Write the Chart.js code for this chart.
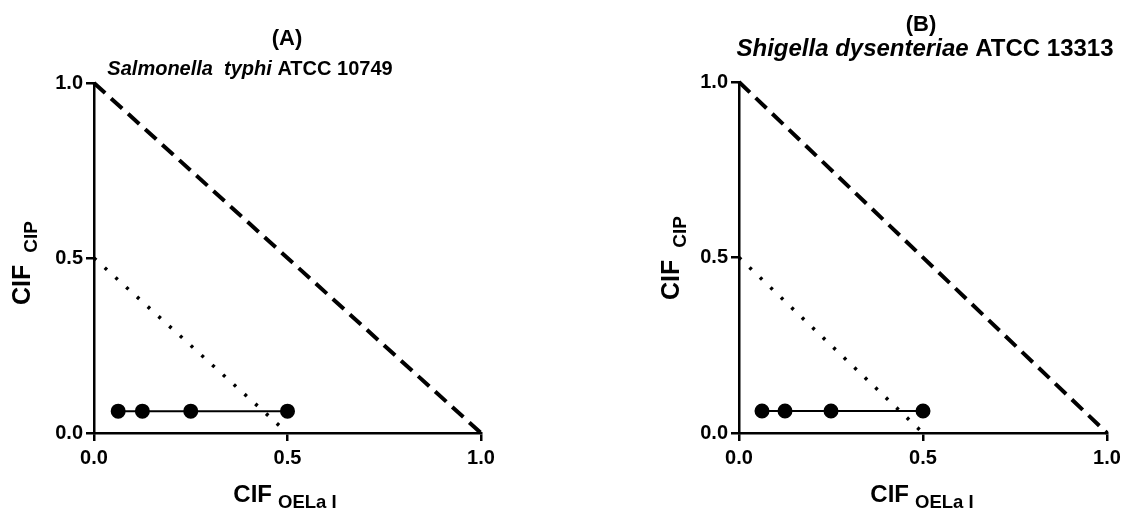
<!DOCTYPE html><html lang="en">
<head>
<meta charset="utf-8"/>
<title>CIF isobolograms</title>
<script src="https://cdn.jsdelivr.net/npm/chart.js"></script>
<style>
  html,body{margin:0;padding:0;background:#fff;overflow:hidden}
  .panel{position:absolute;top:0;width:564px;height:513px}
  #pA{left:0} #pB{left:564px}
</style>
</head>
<body>
<div class="panel" id="pA"><canvas id="chartA" width="564" height="513"></canvas></div>
<div class="panel" id="pB"><canvas id="chartB" width="564" height="513"></canvas></div>
<script>
// -------- values --------
const cifOela  = [0.0625, 0.125, 0.25, 0.5];      // x of combination points
const cifCipA  = [0.0625, 0.0625, 0.0625, 0.0625]; // panel A
const cifCipB  = [0.0625, 0.0625, 0.0625, 0.0625]; // panel B
const addX = [0, 1],   addY = [1, 0];              // additivity line (dashed)
const synX = [0, 0.5], synY = [0.5, 0];            // synergy line (dotted)
const axisTicks = [0, 0.5, 1];
const panelLabels = ['(A)', '(B)'];
const organismA = [['Salmonella', true], ['  typhi', true], [' ATCC 10749', false]];
const organismB = [['Shigella dysenteriae', true], [' ATCC 13313', false]];
const xTitle = ['CIF', 'OELa I'];
const yTitle = ['CIF', 'CIP'];

const FAM = '"Liberation Sans", Arial, sans-serif';
const fnt = (size, italic) => (italic ? 'italic ' : '') + 'bold ' + size + 'px ' + FAM;
const pts = (xs, ys) => xs.map((x, i) => ({x: x, y: ys[i]}));

// draw a row of [text, italic] parts centred on cx
function drawRuns(ctx, parts, size, cx, y){
  let w = 0;
  parts.forEach(p => { ctx.font = fnt(size, p[1]); w += ctx.measureText(p[0]).width; });
  let x = cx - w / 2;
  parts.forEach(p => { ctx.font = fnt(size, p[1]); ctx.fillText(p[0], x, y); x += ctx.measureText(p[0]).width; });
}
// main text + lowered subscript, centred on 0
function drawSub(ctx, parts, big, small, gap, drop){
  ctx.font = fnt(big); const w1 = ctx.measureText(parts[0]).width;
  ctx.font = fnt(small); const w2 = ctx.measureText(parts[1]).width;
  let x = -(w1 + gap + w2) / 2;
  ctx.font = fnt(big); ctx.fillText(parts[0], x, 0);
  ctx.font = fnt(small); ctx.fillText(parts[1], x + w1 + gap, drop);
}

const panelText = {
  id: 'panelText',
  afterDraw(chart, args, o){
    const ctx = chart.ctx;
    ctx.save();
    ctx.fillStyle = '#000';
    ctx.textBaseline = 'alphabetic';
    ctx.textAlign = 'left';
    drawRuns(ctx, [[o.label, false]], 22, o.labelX, o.labelY);
    drawRuns(ctx, o.organism, o.orgSize, o.orgX, o.orgY);
    // x title
    ctx.save(); ctx.translate(o.xtX, o.xtY); drawSub(ctx, xTitle, 24, 18.5, 6, 6); ctx.restore();
    // y title
    ctx.save(); ctx.translate(o.ytX, o.ytY); ctx.rotate(-Math.PI / 2); drawSub(ctx, yTitle, 25, 19, 12, 7); ctx.restore();
    ctx.restore();
  }
};

function axis(extra){
  return Object.assign({
    type: 'linear', min: 0, max: 1,
    afterBuildTicks: s => { s.ticks = axisTicks.map(v => ({value: v})); },
    ticks: {callback: v => v.toFixed(1), color: '#000', padding: 5, maxRotation: 0,
            font: {family: FAM, size: 20, weight: 'bold'}},
    grid: {drawOnChartArea: false, drawTicks: true, tickLength: 8, color: '#000', lineWidth: 2.5},
    border: {color: '#000', width: 2.5}
  }, extra);
}

function makeChart(id, cip, L){
  return new Chart(document.getElementById(id), {
    type: 'scatter',
    data: {datasets: [
      {data: pts(addX, addY), showLine: true, borderColor: '#000', borderWidth: 4, borderDash: [15, 8], pointRadius: 0, clip: false},
      {data: pts(synX, synY), showLine: true, borderColor: '#000', borderWidth: 3.5, borderDash: [3, 11.5], pointRadius: 0, clip: false},
      {data: pts(cifOela, cip), showLine: true, borderColor: '#000', borderWidth: 2,
       pointRadius: 6.5, pointBackgroundColor: '#000', pointBorderColor: '#000', clip: false}
    ]},
    options: {
      responsive: false, animation: false, devicePixelRatio: 1,
      layout: {padding: {left: 0, right: L.right, top: L.top, bottom: 0}},
      plugins: {legend: {display: false}, tooltip: {enabled: false}, panelText: L.text},
      scales: {
        x: axis({afterFit: s => { s.height = 80; }}),
        y: axis({ticks: {callback: v => v.toFixed(1), color: '#000', padding: 3, font: {family: FAM, size: 20, weight: 'bold'}},
                 afterFit: s => { s.width = L.yw; }})
      }
    },
    plugins: [panelText]
  });
}

makeChart('chartA', cifCipA, {yw: 94, right: 83, top: 83, text: {
  label: panelLabels[0], labelX: 287, labelY: 45,
  organism: organismA, orgSize: 20, orgX: 250, orgY: 75,
  xtX: 285, xtY: 502, ytX: 30, ytY: 263}});

makeChart('chartB', cifCipB, {yw: 175, right: 21, top: 82, text: {
  label: panelLabels[1], labelX: 357, labelY: 31,
  organism: organismB, orgSize: 24, orgX: 361, orgY: 56,
  xtX: 358, xtY: 502, ytX: 115, ytY: 258}});
</script>
</body>
</html>
